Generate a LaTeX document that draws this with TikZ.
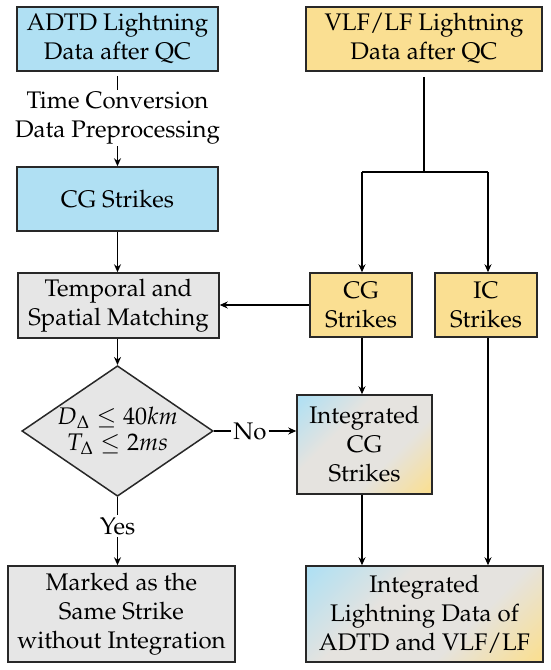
\documentclass[tikz,border=0pt]{standalone}
\usepackage[T1]{fontenc}
\usepackage{mathpazo}
\usetikzlibrary{shapes.geometric,arrows.meta,calc}
\definecolor{boxblue}{RGB}{176,224,243}
\definecolor{boxyellow}{RGB}{250,223,146}
\definecolor{boxgray}{RGB}{230,230,230}
\definecolor{midgray}{RGB}{229,227,223}
\definecolor{edgec}{RGB}{40,40,40}
\pgfdeclarehorizontalshading{bluyel}{100bp}{color(0bp)=(boxblue); color(16bp)=(boxblue); color(38bp)=(midgray); color(62bp)=(midgray); color(84bp)=(boxyellow); color(100bp)=(boxyellow)}
\tikzset{
  base/.style={draw=edgec, line width=1.5pt, align=center, inner sep=0pt, font=\fontsize{24}{29}\selectfont},
  bluebox/.style={base, fill=boxblue},
  yellowbox/.style={base, fill=boxyellow},
  graybox/.style={base, fill=boxgray},
  gradbox/.style={base, shading=bluyel, shading angle=-45},
  lbl/.style={align=center, inner sep=2pt, font=\fontsize{24}{29}\selectfont},
  conn/.style={line width=1.8pt, draw=black},
  arr/.style={conn, -{Stealth[length=8pt,width=7pt]}}
}
\begin{document}
\begin{tikzpicture}[x=1pt,y=-1pt]
\useasboundingbox (0,0) rectangle (550,670);
% nodes
\node[bluebox, minimum width=201pt, minimum height=64pt] (adtd) at (117.5,39) {ADTD Lightning\\Data after QC};
\node[yellowbox, minimum width=236pt, minimum height=64pt] (vlf) at (424,39) {VLF/LF Lightning\\Data after QC};
\node[lbl] (tc) at (117.5,118) {Time Conversion\\Data Preprocessing};
\node[bluebox, minimum width=201pt, minimum height=64pt] (cgl) at (117.5,199) {CG Strikes};
\node[graybox, minimum width=201pt, minimum height=65pt] (tsm) at (118.5,305.5) {Temporal and\\Spatial Matching};
\node[base, fill=boxgray, shape=diamond, aspect=1.465, minimum width=189pt, minimum height=129pt] (dia) at (117.5,431) {$D_{\Delta}\leq 40km$\\[-3pt]$T_{\Delta}\leq 2ms$};
\node[lbl] (no) at (250,431) {No};
\node[lbl] (yes) at (117.5,526) {Yes};
\node[graybox, minimum width=227pt, minimum height=96pt] (mark) at (121.5,614) {Marked as the\\Same Strike\\without Integration};
\node[yellowbox, minimum width=102pt, minimum height=64pt] (cgr) at (361,305) {CG\\Strikes};
\node[yellowbox, minimum width=102pt, minimum height=64pt] (ic) at (486,305) {IC\\Strikes};
\node[gradbox, minimum width=135pt, minimum height=99pt] (icg) at (364.5,444.5) {Integrated\\CG\\Strikes};
\node[gradbox, minimum width=237pt, minimum height=96pt] (fin) at (424.5,614) {Integrated\\Lightning Data of\\ADTD and VLF/LF};
\coordinate (jn) at (424,172);
\coordinate (jl) at (362,172);
\coordinate (jr) at (488,172);
\coordinate (lx) at (117.5,0);
% connectors
\draw[conn, shorten <=4pt] (adtd.south) -- (tc.north);
\draw[arr] (tc.south) -- (cgl.north);
\draw[arr] (cgl.south) -- (cgl.south |- tsm.north);
\draw[arr] (lx |- tsm.south) -- (dia.north);
\draw[conn] (dia.east) -- (dia.east -| no.west);
\draw[arr] (no.east) -- (no.east -| icg.west);
\draw[conn] (dia.south) -- (yes.north);
\draw[arr] (yes.south) -- (yes.south |- mark.north);
\draw[conn, shorten <=5pt] (vlf.south) -- (jn);
\draw[conn] (jl) -- (jr);
\draw[arr] (jl) -- (jl |- cgr.north);
\draw[arr] (jr) -- (jr |- ic.north);
\draw[arr] (cgr.west) -- (tsm.east |- cgr.west);
\draw[arr] (jl |- cgr.south) -- (jl |- icg.north);
\draw[arr] (jl |- icg.south) -- (jl |- fin.north);
\draw[arr] (jr |- ic.south) -- (jr |- fin.north);
\end{tikzpicture}
\end{document}
